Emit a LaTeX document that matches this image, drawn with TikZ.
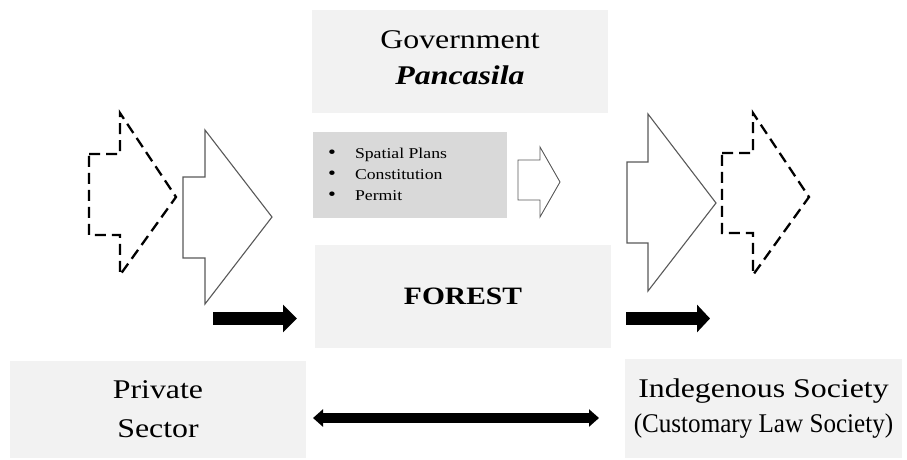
\documentclass[tikz,border=0pt]{standalone}
\usepackage{fontspec}
\setmainfont{Liberation Serif}[FakeStretch=1.18]
\newfontfamily\narrowserif{Liberation Serif}[FakeStretch=0.93]
\usepackage{tikz}
\usetikzlibrary{arrows.meta,positioning}
\definecolor{boxgray}{RGB}{242,242,242}
\definecolor{listgray}{RGB}{217,217,217}
\definecolor{linegray}{RGB}{89,89,89}
\newcommand{\bigbullet}{{\fontsize{19}{21}\selectfont\textbullet}}

\begin{document}
\begin{tikzpicture}[
    x=1pt, y=-1pt,
    box/.style={fill=boxgray, inner sep=0pt, align=center},
    hollow/.style={draw=linegray, line width=1.1pt, fill=white, line join=miter},
    ghost/.style={draw=black, line width=2.3pt, dash pattern=on 11pt off 6pt},
    blk/.style={line width=13pt, -{Triangle[length=14pt,width=27pt]}},
    both/.style={line width=10pt, {Triangle[length=10pt,width=17pt]}-{Triangle[length=10pt,width=17pt]}}
  ]
    \useasboundingbox (0,0) rectangle (907,459);

    % boxes
    \node[box, minimum width=296pt, minimum height=103pt] (gov) at (460,61.5) {};
    \node[align=center, inner sep=0pt, font={\fontsize{27}{36}\selectfont}] (govtext) at (460,58)
      {Government\\\textbf{\textit{Pancasila}}};
    \node[box, fill=listgray, minimum width=194pt, minimum height=86pt] (rules) at (410,175) {};
    \node[anchor=west, inner sep=0pt, align=left, font={\fontsize{15}{21}\selectfont}] (list) at (328,174)
      {\bigbullet\hspace{19pt}Spatial Plans\\
       \bigbullet\hspace{19pt}Constitution\\
       \bigbullet\hspace{19pt}Permit};
    \node[box, minimum width=296pt, minimum height=103pt, font={\fontsize{25}{30}\selectfont\bfseries}] (forest) at (463,296.5)
      {FOREST};
    \node[box, minimum width=296pt, minimum height=97pt, font={\fontsize{27}{39}\selectfont}] (private) at (158,409.5)
      {Private\\Sector};
    \node[box, minimum width=277pt, minimum height=99pt, font={\fontsize{27}{35}\selectfont}] (indig) at (763.5,408.5)
      {Indegenous Society\\{\narrowserif(Customary Law Society)}};

    % block arrows, left
    \draw[ghost] (89,154) -- (120,154) -- (120,113) -- (176,197) -- (120,275) -- (120,235) -- (89,235) -- cycle;
    \draw[hollow] (183,177) -- (205,177) -- (205,130) -- (272,217) -- (205,304) -- (205,258) -- (183,258) -- cycle;
    % small arrow
    \draw[hollow, line width=0.9pt] (518,160) -- (540,160) -- (540,147) -- (560,182) -- (540,217) -- (540,200) -- (518,200) -- cycle;
    % block arrows, right
    \draw[hollow] (627,162) -- (648,162) -- (648,114) -- (716,203) -- (648,291) -- (648,243) -- (627,243) -- cycle;
    \draw[ghost] (722,153) -- (753,153) -- (753,113) -- (809,197) -- (753,275) -- (753,233) -- (722,233) -- cycle;

    % black arrows
    \coordinate (lin) at (213,318.5);
    \coordinate (lout) at (297,318.5);
    \coordinate (rin) at (626,318.5);
    \coordinate (rout) at (710,318.5);
    \coordinate (ps) at (313,418);
    \coordinate (is) at (599,418);
    \draw[blk] (lin) -- (lout);
    \draw[blk, -{Triangle[length=13pt,width=27pt]}] (rin) -- (rout);
    \draw[both] (ps) -- (is);
  \end{tikzpicture}
\end{document}
